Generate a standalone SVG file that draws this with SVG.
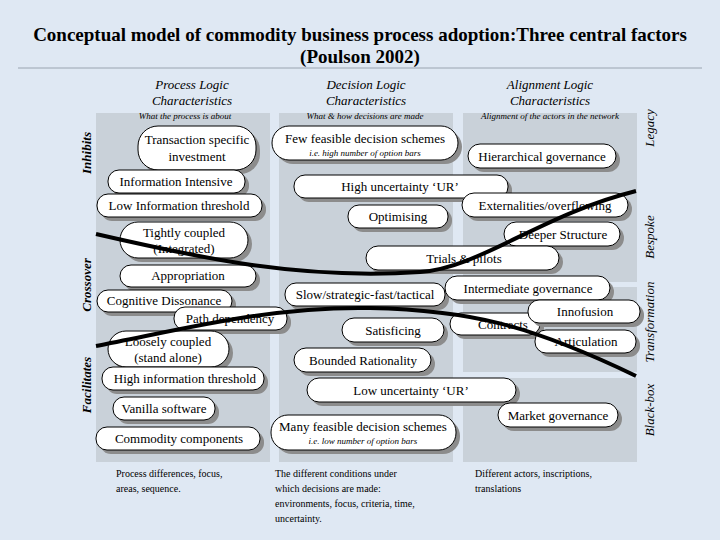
<svg xmlns="http://www.w3.org/2000/svg" width="720" height="540" viewBox="0 0 720 540">
<defs>
<style>
text{font-family:"Liberation Serif","DejaVu Serif",serif;fill:#000}
.p{font-size:13px;text-anchor:middle}
.s{font-size:9px;font-style:italic;text-anchor:middle}
.h{font-size:13px;font-style:italic;text-anchor:middle}
.side{font-size:13px;font-style:italic;font-weight:bold;text-anchor:middle}
.rs{font-size:13px;font-style:italic;text-anchor:middle}
.b{font-size:10px}
.pill rect.sh{fill:#8c8c8c}
.pill rect.bx{fill:#fff;stroke:#000;stroke-width:1}
.panel{fill:#c9d1d9}
.curve{fill:none;stroke:#000;stroke-width:4}
</style>
</defs>
<rect width="720" height="540" fill="#dfe8f3"/>
<text x="360" y="41" style="font-size:19px;font-weight:bold;text-anchor:middle">Conceptual model of commodity business process adoption:Three central factors</text>
<text x="360" y="63" style="font-size:19px;font-weight:bold;text-anchor:middle">(Poulson 2002)</text>
<line x1="18" y1="68" x2="702" y2="68" stroke="#9aa4b0" stroke-width="1"/>
<g id="panels">
<rect class="panel" x="96" y="113" width="174" height="349"/>
<rect class="panel" x="279" y="113" width="174" height="349"/>
<rect class="panel" x="463" y="113" width="174" height="169"/>
<rect class="panel" x="463" y="287" width="174" height="85"/>
<rect class="panel" x="463" y="378" width="174" height="84"/>
</g>
<g id="headers">
<text class="h" x="192" y="89">Process Logic</text><text class="h" x="192" y="105">Characteristics</text>
<text class="h" x="366" y="89">Decision Logic</text><text class="h" x="366" y="105">Characteristics</text>
<text class="h" x="550" y="89">Alignment Logic</text><text class="h" x="550" y="105">Characteristics</text>
<text class="s" x="185" y="119">What the process is about</text>
<text class="s" x="365" y="119">What &amp; how decisions are made</text>
<text class="s" x="550" y="119">Alignment of the actors in the network</text>
</g>
<g id="sides">
<text class="side" transform="translate(91,153) rotate(-90)">Inhibits</text>
<text class="side" transform="translate(91,285) rotate(-90)">Crossover</text>
<text class="side" transform="translate(91,385) rotate(-90)">Facilitates</text>
<text class="rs" transform="translate(654,128) rotate(-90)">Legacy</text>
<text class="rs" transform="translate(654,237) rotate(-90)">Bespoke</text>
<text class="rs" transform="translate(654,322) rotate(-90)">Transformation</text>
<text class="rs" transform="translate(654,410) rotate(-90)">Black-box</text>
</g>
<g id="n1" class="pill"><rect class="sh" x="142" y="130" width="118" height="44" rx="20"/><rect class="bx" x="138" y="126" width="118" height="44" rx="20"/><text class="p" x="197" y="144">Transaction specific</text><text class="p" x="197" y="161">investment</text></g>
<g id="n2" class="pill"><rect class="sh" x="112" y="174" width="137" height="23" rx="11"/><rect class="bx" x="108" y="170" width="137" height="23" rx="11"/><text class="p" x="176" y="186">Information Intensive</text></g>
<g id="n3" class="pill"><rect class="sh" x="101" y="198" width="165" height="23" rx="11"/><rect class="bx" x="97" y="194" width="165" height="23" rx="11"/><text class="p" x="179" y="210">Low Information threshold</text></g>
<g id="n4" class="pill"><rect class="sh" x="124" y="226" width="128" height="36" rx="18"/><rect class="bx" x="120" y="222" width="128" height="36" rx="18"/><text class="p" x="184" y="237">Tightly coupled</text><text class="p" x="184" y="253">(Integrated)</text></g>
<g id="n5" class="pill"><rect class="sh" x="124" y="269" width="136" height="22" rx="11"/><rect class="bx" x="120" y="265" width="136" height="22" rx="11"/><text class="p" x="188" y="280">Appropriation</text></g>
<g id="n6" class="pill"><rect class="sh" x="101" y="294" width="135" height="22" rx="11"/><rect class="bx" x="97" y="290" width="135" height="22" rx="11"/><text class="p" x="164" y="305">Cognitive Dissonance</text></g>
<g id="n7" class="pill"><rect class="sh" x="178" y="311" width="113" height="23" rx="11"/><rect class="bx" x="174" y="307" width="113" height="23" rx="11"/><text class="p" x="230" y="323">Path dependency</text></g>
<g id="n8" class="pill"><rect class="sh" x="112" y="335" width="121" height="36" rx="18"/><rect class="bx" x="108" y="331" width="121" height="36" rx="18"/><text class="p" x="168" y="346">Loosely coupled</text><text class="p" x="168" y="362">(stand alone)</text></g>
<g id="n9" class="pill"><rect class="sh" x="106" y="371" width="162" height="23" rx="11"/><rect class="bx" x="102" y="367" width="162" height="23" rx="11"/><text class="p" x="185" y="383">High information threshold</text></g>
<g id="n10" class="pill"><rect class="sh" x="117" y="401" width="102" height="23" rx="11"/><rect class="bx" x="113" y="397" width="102" height="23" rx="11"/><text class="p" x="164" y="413">Vanilla software</text></g>
<g id="n11" class="pill"><rect class="sh" x="100" y="431" width="164" height="23" rx="11"/><rect class="bx" x="96" y="427" width="164" height="23" rx="11"/><text class="p" x="179" y="443">Commodity components</text></g>
<g id="n12" class="pill"><rect class="sh" x="276" y="130" width="186" height="34" rx="17"/><rect class="bx" x="272" y="126" width="186" height="34" rx="17"/><text class="p" x="365" y="143">Few feasible decision schemes</text><text class="s" x="365" y="156">i.e. high number of option bars</text></g>
<g id="n13" class="pill"><rect class="sh" x="298" y="179" width="214" height="23" rx="11"/><rect class="bx" x="294" y="175" width="214" height="23" rx="11"/><text class="p" x="400" y="191">High uncertainty ‘UR’</text></g>
<g id="n14" class="pill"><rect class="sh" x="352" y="209" width="100" height="23" rx="11"/><rect class="bx" x="348" y="205" width="100" height="23" rx="11"/><text class="p" x="398" y="221">Optimising</text></g>
<g id="n15" class="pill"><rect class="sh" x="472" y="148" width="148" height="24" rx="12"/><rect class="bx" x="468" y="144" width="148" height="24" rx="12"/><text class="p" x="542" y="161">Hierarchical governance</text></g>
<g id="n16" class="pill"><rect class="sh" x="466" y="197" width="166" height="24" rx="12"/><rect class="bx" x="462" y="193" width="166" height="24" rx="12"/><text class="p" x="545" y="210">Externalities/overflowing</text></g>
<g id="n17" class="pill"><rect class="sh" x="508" y="226" width="116" height="24" rx="12"/><rect class="bx" x="504" y="222" width="116" height="24" rx="12"/><text class="p" x="563" y="239">Deeper Structure</text></g>
<g id="n18" class="pill"><rect class="sh" x="370" y="250" width="193" height="24" rx="12"/><rect class="bx" x="366" y="246" width="193" height="24" rx="12"/><text class="p" x="464" y="263">Trials &amp; pilots</text></g>
<g id="n19" class="pill"><rect class="sh" x="289" y="287" width="160" height="23" rx="11"/><rect class="bx" x="285" y="283" width="160" height="23" rx="11"/><text class="p" x="365" y="299">Slow/strategic-fast/tactical</text></g>
<g id="n20" class="pill"><rect class="sh" x="449" y="280" width="165" height="24" rx="12"/><rect class="bx" x="445" y="276" width="165" height="24" rx="12"/><text class="p" x="528" y="293">Intermediate governance</text></g>
<g id="n21" class="pill"><rect class="sh" x="454" y="317" width="90" height="22" rx="11"/><rect class="bx" x="450" y="313" width="90" height="22" rx="11"/><text class="p" x="503" y="329">Contracts</text></g>
<g id="n22" class="pill"><rect class="sh" x="532" y="304" width="112" height="23" rx="11"/><rect class="bx" x="528" y="300" width="112" height="23" rx="11"/><text class="p" x="585" y="316">Innofusion</text></g>
<g id="n23" class="pill"><rect class="sh" x="539" y="334" width="101" height="23" rx="11"/><rect class="bx" x="535" y="330" width="101" height="23" rx="11"/><text class="p" x="586" y="346">Articulation</text></g>
<g id="n24" class="pill"><rect class="sh" x="346" y="322" width="102" height="24" rx="12"/><rect class="bx" x="342" y="318" width="102" height="24" rx="12"/><text class="p" x="393" y="335">Satisficing</text></g>
<g id="n25" class="pill"><rect class="sh" x="298" y="352" width="137" height="24" rx="12"/><rect class="bx" x="294" y="348" width="137" height="24" rx="12"/><text class="p" x="363" y="365">Bounded Rationality</text></g>
<g id="n26" class="pill"><rect class="sh" x="311" y="382" width="209" height="24" rx="12"/><rect class="bx" x="307" y="378" width="209" height="24" rx="12"/><text class="p" x="411" y="395">Low uncertainty ‘UR’</text></g>
<g id="n27" class="pill"><rect class="sh" x="502" y="407" width="120" height="24" rx="12"/><rect class="bx" x="498" y="403" width="120" height="24" rx="12"/><text class="p" x="558" y="420">Market governance</text></g>
<g id="n28" class="pill"><rect class="sh" x="275" y="419" width="185" height="35" rx="17"/><rect class="bx" x="271" y="415" width="185" height="35" rx="17"/><text class="p" x="363" y="431">Many feasible decision schemes</text><text class="s" x="363" y="444">i.e. low number of option bars</text></g>
<g id="connectors">
<path class="curve" d="M96,234 C200,258 300,280 420,272 C480,268 540,215 636,191"/>
<path class="curve" d="M96,346 C180,330 270,306 370,308 C470,310 530,325 636,376"/>
</g>
<g id="notes">
<text class="b" x="116" y="477">Process differences, focus,</text>
<text class="b" x="116" y="492">areas, sequence.</text>
<text class="b" x="275" y="477">The different conditions under</text>
<text class="b" x="275" y="492">which decisions are made:</text>
<text class="b" x="275" y="507">environments, focus, criteria, time,</text>
<text class="b" x="275" y="522">uncertainty.</text>
<text class="b" x="475" y="477">Different actors, inscriptions,</text>
<text class="b" x="475" y="492">translations</text>
</g>
</svg>
